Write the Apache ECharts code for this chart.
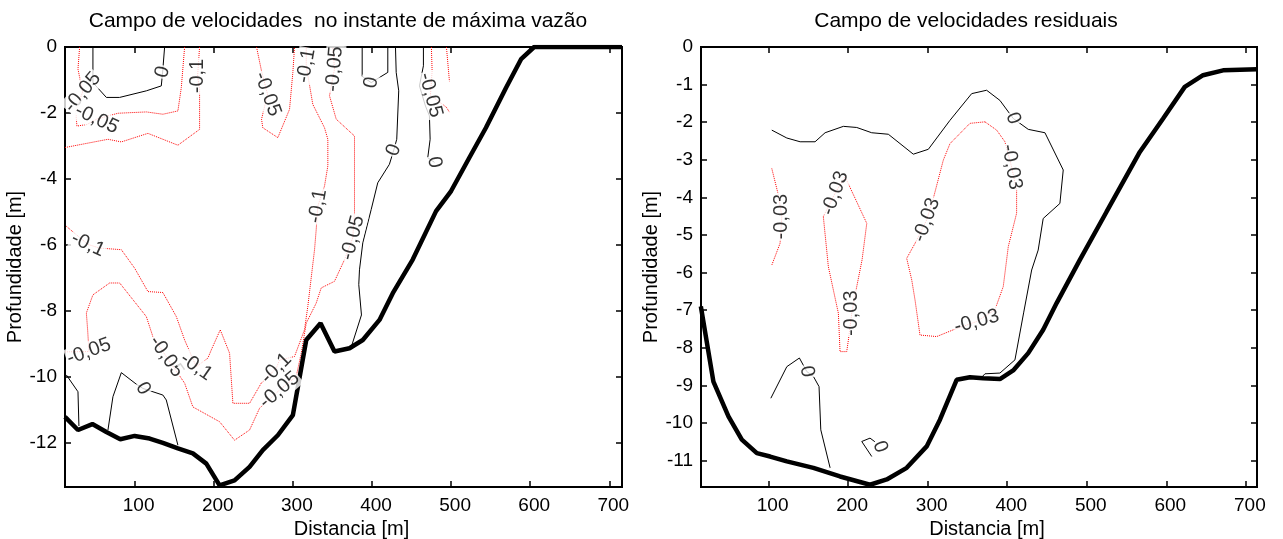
<!DOCTYPE html>
<html>
<head>
<meta charset="utf-8">
<script src="https://cdn.jsdelivr.net/npm/echarts@6/dist/echarts.min.js"></script>
<style>
  html, body { margin: 0; background: #fff; }
  #chart { width: 1283px; height: 539px; }
</style>
</head>
<body>
<div id="chart"></div>
<script>
// ---------------------------------------------------------------
// Data (x = distance [m], y = depth [m])
// ---------------------------------------------------------------
var xTicks = [100, 200, 300, 400, 500, 600, 700];
var yTicksLeft = [0, -2, -4, -6, -8, -10, -12];
var yTicksRight = [0, -1, -2, -3, -4, -5, -6, -7, -8, -9, -10, -11];

// left panel: velocity field at peak discharge
var leftBed = [[12, -11.22], [28.4, -11.62], [46.6, -11.44], [64.3, -11.68], [81.9, -11.9], [100, -11.8],
  [119, -11.88], [135.7, -12.01], [154.7, -12.18], [173.6, -12.33], [190.6, -12.64], [207.4, -13.3],
  [226.3, -13.15], [245.3, -12.74], [262, -12.23], [281, -11.78], [300, -11.17], [316.9, -8.89],
  [335, -8.38], [352.6, -9.24], [371.6, -9.14], [388.4, -8.89], [409.5, -8.28], [426.3, -7.47],
  [451.5, -6.45], [481, -4.98], [500, -4.37], [523, -3.36], [544, -2.45], [569.6, -1.23],
  [588.4, -0.37], [605, 0], [716, 0]];

// level 0
var leftZeroA = [[47.3, 0], [47.3, -1.08], [64.3, -1.53], [81, -1.53], [114.8, -1.33], [133.7, -1.18], [135.4, -0.76], [137.9, 0]];
var leftZeroB = [[13.7, -9.95], [28.4, -10.46], [29.6, -11.5]];
var leftZeroC = [[66.3, -11.62], [72.6, -10.61], [83.2, -9.88], [102.1, -10.23], [110.5, -10.36], [135.7, -10.56], [140, -10.71], [154.7, -12.08]];
var leftZeroD = [[387.6, 0], [387.6, -0.89], [399, -1.08], [420, -0.77], [420, 0]];
var leftZeroE = [[429.7, 0], [430.6, -0.77], [433.8, -1.33], [431.3, -2.8], [427.5, -3.13], [422, -3.56],
  [407.3, -4.12], [399, -4.93], [388.4, -5.94], [384.2, -6.76], [383.3, -7.21], [386.7, -8.13], [373.7, -9.11]];
var leftZeroF = [[465, 0], [465, -0.57], [460, -1.18], [467.6, -1.79], [472.6, -2.09], [473.5, -2.8], [470.5, -3.36], [479, -3.5]];

// levels -0,05 and -0,1
var leftRedA = [[30.5, 0], [28.4, -0.67], [30.5, -0.92], [34.3, -1.37], [25.5, -1.94], [27.1, -2.4], [39.8, -2.35],
  [52, -2.19], [78.9, -2.01], [114.8, -1.97], [135.7, -2.04], [154.7, -1.94], [159, -1.23], [163.2, 0]];
var leftRedB = [[12, -3.05], [66.3, -2.8], [83.2, -2.88], [116.8, -2.62], [154.7, -2.98], [182.1, -2.5],
  [182.1, -1.28], [179.6, -0.88], [182.1, 0]];
var leftRedC = [[254.1, 0], [260.4, -0.73], [268, -1.43], [260.4, -2.19], [262, -2.45], [281, -2.75],
  [295.8, -1.89], [300, -0.77], [302.1, 0]];
var leftRedD = [[13.7, -5.44], [41, -5.99], [55.8, -6.1], [83.2, -6.15], [100, -6.71], [116.8, -7.42],
  [135.7, -7.45], [152.7, -8.18], [163.2, -8.89], [177.9, -9.7], [192.6, -9.44], [196.9, -9.19],
  [208.2, -8.58], [220, -9.29], [224.2, -10.81], [245.3, -10.81], [260, -10.2], [279, -9.75],
  [283.1, -9.5], [302.1, -9.39], [314.7, -8.58], [318.9, -7.87], [327.4, -6.15], [329.5, -5.54],
  [331.5, -4.83], [340, -4.22], [344.2, -3.61], [344.2, -2.8], [340, -2.45], [325.2, -1.74],
  [316.9, -0.57], [316.9, 0]];
var leftRedE = [[12, -9.25], [42.3, -9.24], [40.6, -8.58], [39, -8.07], [47.3, -7.52], [68.4, -7.16],
  [81.1, -7.16], [114.8, -8.18], [123.1, -8.79], [140, -9.39], [163.2, -10.2], [173.6, -10.92],
  [207.4, -11.37], [226.3, -11.93], [245.3, -11.62], [257.9, -10.96], [283.1, -10.41], [304.2, -10],
  [310.6, -9.29], [316.9, -8.38], [329.5, -7.77], [335.8, -7.31], [352.6, -7.11], [365.3, -6.45],
  [375.7, -5.79], [377.9, -5.03], [377.9, -2.7], [354.8, -2.19], [346.3, -1.48], [352.6, -0.67], [350.5, 0]];
var leftRedF = [[475.1, 0], [476, -0.73], [473.9, -1.46], [494.1, -1.83], [497.9, -1.98]];
var leftRedG = [[494.1, 0], [497.9, -1.04]];

// contour labels: text, x, y, angle
var leftLabels = [
  ['0', 135.4, -0.76, 75], ['-0,05', 34.3, -1.37, 50], ['-0,05', 52, -2.19, -25],
  ['-0,1', 179.6, -0.88, 90], ['-0,05', 268, -1.43, -70], ['-0,1', 316.9, -0.57, 80],
  ['-0,05', 352.6, -0.67, 85], ['0', 399, -1.08, 80], ['-0,05', 473.9, -1.46, -75],
  ['0', 427.5, -3.13, 70], ['0', 479, -3.5, -80], ['-0,1', 331.5, -4.83, 80],
  ['-0,05', 375.7, -5.79, 75], ['-0,1', 41, -5.99, -25], ['-0,05', 42.3, -9.24, 20],
  ['-0,05', 140, -9.39, -55], ['-0,1', 177.9, -9.7, -35], ['0', 110.5, -10.36, -60],
  ['-0,1', 279, -9.75, 45], ['-0,05', 283.1, -10.41, 40]
];

// right panel: residual velocity field
var rightBed = [[14.8, -6.9], [30.6, -8.9], [49.5, -9.82], [66.3, -10.44], [85.2, -10.8], [101.9, -10.89],
  [122.9, -11.02], [156.3, -11.19], [189.8, -11.42], [227.5, -11.64], [248.5, -11.5], [273.6, -11.19],
  [298.7, -10.62], [315.4, -9.91], [336.4, -8.85], [353.1, -8.78], [369.8, -8.81], [390.8, -8.83],
  [407.5, -8.6], [426.4, -8.14], [445.2, -7.52], [462.1, -6.81], [491.3, -5.66], [524.9, -4.38],
  [566.7, -2.79], [596, -1.9], [623.2, -1.06], [646.2, -0.75], [671.4, -0.62], [714, -0.59]];

var rightZeroA = [[104, -2.21], [122.9, -2.42], [139.6, -2.52], [158.4, -2.52], [171, -2.28], [194, -2.11],
  [210.8, -2.14], [229.6, -2.28], [250.5, -2.32], [281.9, -2.85], [300.8, -2.72], [328, -1.95],
  [355.3, -1.24], [374.1, -1.15], [390.8, -1.42], [407.5, -1.9], [426.4, -2.19], [447.4, -2.28],
  [470.4, -3.27], [466.2, -4.16], [445.2, -4.56], [438.9, -5.4], [430.7, -5.93], [420.6, -7.07],
  [409.7, -8.32], [390.8, -8.67], [372, -8.69], [367, -8.8]];
var rightZeroB = [[102.8, -9.34], [122.9, -8.5], [138.7, -8.27], [148, -8.63], [156.3, -8.76],
  [163.4, -9.03], [165.6, -10.18], [177.3, -11.19]];
var rightZeroC = [[229.7, -10.89], [217.1, -10.49], [227.5, -10.4], [233.8, -10.5]];

var rightRedA = [[104, -3.23], [112.3, -3.94], [116.6, -4.51], [114.4, -5.22], [104, -5.8]];
var rightRedB = [[168.8, -4.51], [183.5, -3.89], [196.1, -3.45], [223.4, -4.69], [217.5, -5.66],
  [210.8, -6.37], [204.5, -7.08], [200.3, -7.79], [198.2, -8.1], [189.8, -8.1], [187.7, -7.08],
  [175.1, -5.84], [168.8, -4.51]];
var rightRedC = [[372, -1.99], [386.7, -2.21], [397.1, -2.52], [405.5, -3.19], [411.8, -3.81],
  [411.8, -4.42], [401.3, -5.31], [395, -6.37], [384.5, -6.99], [361.6, -7.3], [332.2, -7.52],
  [311.3, -7.7], [290.3, -7.66], [284.1, -6.73], [279.9, -6.19], [273.6, -5.62], [284.1, -5.22],
  [298.7, -4.6], [307, -4.03], [319.6, -3.01], [328, -2.57], [353.1, -2.03], [372, -1.99]];

var rightLabels = [
  ['0', 407.5, -1.9, -70], ['-0,03', 116.6, -4.51, 90], ['-0,03', 183.5, -3.89, 70],
  ['-0,03', 204.5, -7.08, 90], ['-0,03', 405.5, -3.19, -80], ['-0,03', 361.6, -7.3, 15],
  ['-0,03', 298.7, -4.6, 70], ['0', 148, -8.63, -80], ['0', 240, -10.63, -70]
];

// ---------------------------------------------------------------
// Chart
// ---------------------------------------------------------------
var FONT = 'Liberation Sans, Arial, sans-serif';

function xAxisFor(grid, min, max, top) {
  return {
    type: 'value', gridIndex: grid, min: min, max: max,
    position: top ? 'top' : 'bottom',
    name: top ? '' : 'Distancia [m]', nameLocation: 'middle', nameGap: 27,
    nameTextStyle: { color: '#000', fontSize: 20, fontFamily: FONT, padding: [0, 0, 0, 16] },
    axisLine: { show: true, onZero: false, lineStyle: { color: '#000', width: 2 } },
    axisTick: { show: true, inside: true, length: 6, customValues: xTicks, lineStyle: { color: '#000', width: 1.5 } },
    axisLabel: { show: !top, customValues: xTicks, color: '#000', fontSize: 19, fontFamily: FONT, margin: 9, padding: [0, 0, 0, 8] },
    splitLine: { show: false }
  };
}

function yAxisFor(grid, min, ticks, right) {
  return {
    type: 'value', gridIndex: grid, min: min, max: 0,
    position: right ? 'right' : 'left',
    name: right ? '' : 'Profundidade [m]', nameLocation: 'middle', nameGap: 34,
    nameTextStyle: { color: '#000', fontSize: 20, fontFamily: FONT },
    axisLine: { show: true, onZero: false, lineStyle: { color: '#000', width: 2 } },
    axisTick: { show: true, inside: true, length: 6, customValues: ticks, lineStyle: { color: '#000', width: 1.5 } },
    axisLabel: { show: !right, customValues: ticks, color: '#000', fontSize: 19, fontFamily: FONT, margin: 8, padding: [8, 0, 0, 0] },
    splitLine: { show: false }
  };
}

var series = [];
function addLines(lines, axis, style) {
  lines.forEach(function (pts) {
    series.push({
      type: 'line', xAxisIndex: axis, yAxisIndex: axis, data: pts,
      symbol: 'none', silent: true, lineStyle: style, z: 2
    });
  });
}
function addLabels(labels, axis) {
  series.push({
    type: 'scatter', xAxisIndex: axis, yAxisIndex: axis, symbolSize: 1, silent: true, z: 5,
    itemStyle: { color: 'rgba(0,0,0,0)' },
    label: {
      show: true, position: 'inside', color: '#000', fontSize: 20, fontFamily: FONT,
      backgroundColor: '#fff', padding: [0, 1]
    },
    data: labels.map(function (l) {
      return { value: [l[1], l[2]], label: { formatter: l[0], rotate: l[3] } };
    })
  });
}

var redStyle = { color: '#ff0000', width: 1, type: 'dotted' };
var blackStyle = { color: '#000', width: 1 };
var bedStyle = { color: '#000', width: 4.5 };

addLines([leftRedA, leftRedB, leftRedC, leftRedD, leftRedE, leftRedF, leftRedG], 0, redStyle);
addLines([leftZeroA, leftZeroB, leftZeroC, leftZeroD, leftZeroE, leftZeroF], 0, blackStyle);
addLines([leftBed], 0, bedStyle);
addLabels(leftLabels, 0);

addLines([rightRedA, rightRedB, rightRedC], 2, redStyle);
addLines([rightZeroA, rightZeroB, rightZeroC], 2, blackStyle);
addLines([rightBed], 2, bedStyle);
addLabels(rightLabels, 2);

var chart = echarts.init(document.getElementById('chart'), null, { renderer: 'canvas' });
chart.setOption({
  animation: false,
  backgroundColor: '#fff',
  title: [
    { text: 'Campo de velocidades  no instante de máxima vazão', left: 333, top: 6, textAlign: 'center',
      textStyle: { color: '#000', fontSize: 21, fontWeight: 'normal', fontFamily: FONT } },
    { text: 'Campo de velocidades residuais', left: 961, top: 6, textAlign: 'center',
      textStyle: { color: '#000', fontSize: 21, fontWeight: 'normal', fontFamily: FONT } }
  ],
  grid: [
    { left: 65, right: 661, top: 47, bottom: 52, show: true, borderColor: '#000', borderWidth: 2, outerBoundsMode: 'none' },
    { left: 701, right: 26, top: 47, bottom: 52, show: true, borderColor: '#000', borderWidth: 2, outerBoundsMode: 'none' }
  ],
  xAxis: [
    xAxisFor(0, 12, 716, false), xAxisFor(0, 12, 716, true),
    xAxisFor(1, 15, 714, false), xAxisFor(1, 15, 714, true)
  ],
  yAxis: [
    yAxisFor(0, -13.35, yTicksLeft, false), yAxisFor(0, -13.35, yTicksLeft, true),
    yAxisFor(1, -11.7, yTicksRight, false), yAxisFor(1, -11.7, yTicksRight, true)
  ],
  series: series
});
</script>
</body>
</html>
